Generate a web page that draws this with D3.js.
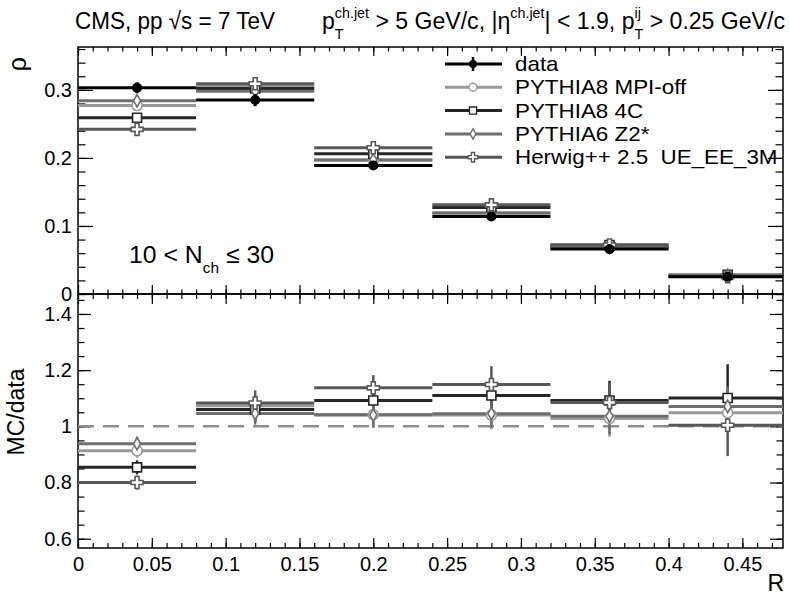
<!DOCTYPE html>
<html><head><meta charset="utf-8">
<script src="https://cdn.jsdelivr.net/npm/d3@7"></script>
<style>
html,body{margin:0;padding:0;background:#fff;}
text{font-family:"Liberation Sans",Arial,Helvetica,sans-serif;white-space:pre;}
</style></head>
<body>
<svg id="c" width="789" height="597"></svg>
<script>
// ---------- data ----------
const binLow  = [0.00, 0.08, 0.16, 0.24, 0.32, 0.40];
const binHigh = [0.08, 0.16, 0.24, 0.32, 0.40, 0.48];
const binCenter = [0.04, 0.12, 0.20, 0.28, 0.36, 0.44];

const dataRho    = [0.303, 0.285, 0.189, 0.114, 0.066, 0.0255];
const dataRhoErr = [0.008, 0.009, 0.005, 0.003, 0.002, 0.002];

const mpiOffRho  = [0.277, 0.306, 0.197, 0.119, 0.068, 0.0267];
const p8_4cRho   = [0.259, 0.302, 0.206, 0.127, 0.072, 0.0281];
const p6_z2Rho   = [0.284, 0.298, 0.197, 0.119, 0.068, 0.0273];
const herwigRho  = [0.242, 0.309, 0.215, 0.131, 0.072, 0.0256];

const mpiOffRatio = [0.913, 1.073, 1.042, 1.040, 1.028, 1.048];
const p8_4cRatio  = [0.854, 1.060, 1.092, 1.110, 1.092, 1.101];
const p6_z2Ratio  = [0.938, 1.046, 1.040, 1.045, 1.036, 1.071];
const herwigRatio = [0.800, 1.083, 1.137, 1.149, 1.085, 1.004];

const mpiOffRatioErr = [0.025, 0.040, 0.045, 0.050, 0.065, 0.070];
const p8_4cRatioErr  = [0.025, 0.045, 0.050, 0.060, 0.070, 0.120];
const p6_z2RatioErr  = [0.025, 0.040, 0.045, 0.050, 0.065, 0.070];
const herwigRatioErr = [0.025, 0.045, 0.045, 0.065, 0.070, 0.110];

const seriesNames = ["data", "PYTHIA8 MPI-off", "PYTHIA8 4C", "PYTHIA6 Z2*", "Herwig++ 2.5  UE_EE_3M"];

const xTicks     = [0, 0.05, 0.1, 0.15, 0.2, 0.25, 0.3, 0.35, 0.4, 0.45];
const xTickLabels= ["0","0.05","0.1","0.15","0.2","0.25","0.3","0.35","0.4","0.45"];
const rhoTicks   = [0, 0.1, 0.2, 0.3];
const rhoTickLabels = ["0","0.1","0.2","0.3"];
const ratioTicks = [0.6, 0.8, 1, 1.2, 1.4];
const ratioTickLabels = ["0.6","0.8","1","1.2","1.4"];

// ---------- layout ----------
const L = 78, R = 783, T = 47, MID = 294, B = 548;
const svg = d3.select("#c");
const x = d3.scaleLinear().domain([0, 0.4775]).range([L, R]);
const yU = d3.scaleLinear().domain([0, 0.363]).range([MID, T]);
const yL = d3.scaleLinear().domain([0.567, 1.471]).range([B, MID]);

const mc = [
  {name: seriesNames[1], rho: mpiOffRho, ratio: mpiOffRatio, err: mpiOffRatioErr, color: "#9a9a9a", sym: "circle"},
  {name: seriesNames[2], rho: p8_4cRho,  ratio: p8_4cRatio,  err: p8_4cRatioErr,  color: "#262626", sym: "square"},
  {name: seriesNames[3], rho: p6_z2Rho,  ratio: p6_z2Ratio,  err: p6_z2RatioErr,  color: "#6e6e6e", sym: "diamond"},
  {name: seriesNames[4], rho: herwigRho, ratio: herwigRatio, err: herwigRatioErr, color: "#585858", sym: "cross"}
];
const symType = {circle: d3.symbolCircle, square: d3.symbolSquare, diamond: d3.symbolDiamond, cross: d3.symbolCross};
const symSize = {circle: 80, square: 81, diamond: 44, cross: 80};

function drawMarker(g, s, cx, cy) {
  g.append("path").attr("d", d3.symbol().type(symType[s.sym]).size(symSize[s.sym])())
    .attr("transform", `translate(${cx},${cy})`)
    .attr("fill", "#fff").attr("stroke", s.color).attr("stroke-width", 1.6);
}

// ---------- axes ----------
const minorX = d3.range(0, 0.4776, 0.01).map(v => +v.toFixed(3));
const minorRho = d3.range(0, 0.3631, 0.02).map(v => +v.toFixed(3));
const minorRatio = d3.range(0.6, 1.4501, 0.05).map(v => +v.toFixed(3));
function fmt(vals, labels) { return v => labels[vals.findIndex(t => Math.abs(t - v) < 1e-9)] || ""; }

function addAxis(axis, tx, ty, labelSize) {
  const g = svg.append("g").attr("transform", `translate(${tx},${ty})`).call(axis);
  g.select(".domain").remove();
  g.selectAll("line").attr("stroke", "#000").attr("stroke-width", 1.2);
  g.selectAll("text").attr("font-size", labelSize || 20).attr("fill", "#000")
    .attr("font-family", '"Liberation Sans",Arial,sans-serif');
  return g;
}
// upper panel x ticks (top frame down, bottom up)
addAxis(d3.axisTop(x).tickValues(xTicks).tickSize(-9).tickFormat(""), 0, T);
addAxis(d3.axisTop(x).tickValues(minorX).tickSize(-4.5).tickFormat(""), 0, T);
addAxis(d3.axisBottom(x).tickValues(xTicks).tickSize(-9).tickFormat(""), 0, MID);
addAxis(d3.axisBottom(x).tickValues(minorX).tickSize(-4.5).tickFormat(""), 0, MID);
// lower panel x ticks
addAxis(d3.axisTop(x).tickValues(xTicks).tickSize(-10).tickFormat(""), 0, MID);
addAxis(d3.axisTop(x).tickValues(minorX).tickSize(-5).tickFormat(""), 0, MID);
addAxis(d3.axisBottom(x).tickValues(xTicks).tickSize(-10).tickPadding(9).tickFormat(fmt(xTicks, xTickLabels)), 0, B);
addAxis(d3.axisBottom(x).tickValues(minorX).tickSize(-5).tickFormat(""), 0, B);
// upper y
addAxis(d3.axisLeft(yU).tickValues(rhoTicks).tickSize(-15).tickPadding(6).tickFormat(fmt(rhoTicks, rhoTickLabels)), L, 0);
addAxis(d3.axisLeft(yU).tickValues(minorRho).tickSize(-7.5).tickFormat(""), L, 0);
addAxis(d3.axisRight(yU).tickValues(rhoTicks).tickSize(-15).tickFormat(""), R, 0);
addAxis(d3.axisRight(yU).tickValues(minorRho).tickSize(-7.5).tickFormat(""), R, 0);
// lower y
addAxis(d3.axisLeft(yL).tickValues(ratioTicks).tickSize(-13).tickPadding(6).tickFormat(fmt(ratioTicks, ratioTickLabels)), L, 0);
addAxis(d3.axisLeft(yL).tickValues(minorRatio).tickSize(-6.5).tickFormat(""), L, 0);
addAxis(d3.axisRight(yL).tickValues(ratioTicks).tickSize(-13).tickFormat(""), R, 0);
addAxis(d3.axisRight(yL).tickValues(minorRatio).tickSize(-6.5).tickFormat(""), R, 0);

// frames
svg.append("rect").attr("x", L).attr("y", T).attr("width", R - L).attr("height", MID - T)
  .attr("fill", "none").attr("stroke", "#000").attr("stroke-width", 1.5);
svg.append("rect").attr("x", L).attr("y", MID).attr("width", R - L).attr("height", B - MID)
  .attr("fill", "none").attr("stroke", "#000").attr("stroke-width", 1.5);

// ---------- upper panel ----------
const gU = svg.append("g");
mc.forEach(s => {
  binCenter.forEach((c, i) => {
    gU.append("line").attr("x1", x(binLow[i])).attr("x2", Math.min(x(binHigh[i]), R))
      .attr("y1", yU(s.rho[i])).attr("y2", yU(s.rho[i]))
      .attr("stroke", s.color).attr("stroke-width", 3);
  });
});
mc.forEach(s => binCenter.forEach((c, i) => drawMarker(gU, s, x(c), yU(s.rho[i]))));
binCenter.forEach((c, i) => {
  gU.append("line").attr("x1", x(binLow[i])).attr("x2", Math.min(x(binHigh[i]), R))
    .attr("y1", yU(dataRho[i])).attr("y2", yU(dataRho[i])).attr("stroke", "#000").attr("stroke-width", 3);
  gU.append("line").attr("x1", x(c)).attr("x2", x(c))
    .attr("y1", yU(dataRho[i] - dataRhoErr[i])).attr("y2", yU(dataRho[i] + dataRhoErr[i]))
    .attr("stroke", "#000").attr("stroke-width", 3);
  gU.append("circle").attr("cx", x(c)).attr("cy", yU(dataRho[i])).attr("r", 5).attr("fill", "#000");
});

// ---------- lower panel ----------
const gL = svg.append("g");
gL.append("line").attr("x1", L).attr("x2", R).attr("y1", yL(1)).attr("y2", yL(1))
  .attr("stroke", "#8f8f8f").attr("stroke-width", 2.5).attr("stroke-dasharray", "16,9");
mc.forEach(s => {
  binCenter.forEach((c, i) => {
    gL.append("line").attr("x1", x(c)).attr("x2", x(c))
      .attr("y1", yL(s.ratio[i] - s.err[i])).attr("y2", yL(s.ratio[i] + s.err[i]))
      .attr("stroke", s.color).attr("stroke-width", 2.5);
    gL.append("line").attr("x1", x(binLow[i])).attr("x2", Math.min(x(binHigh[i]), R))
      .attr("y1", yL(s.ratio[i])).attr("y2", yL(s.ratio[i]))
      .attr("stroke", s.color).attr("stroke-width", 3);
  });
});
mc.forEach(s => binCenter.forEach((c, i) => drawMarker(gL, s, x(c), yL(s.ratio[i]))));

// ---------- legend ----------
const lg = svg.append("g");
const legY0 = 64, legDy = 23.3, lx1 = 445, lx2 = 502, lmx = 473, ltx = 515;
const legendEntries = [{name: seriesNames[0], color: "#000", data: true}].concat(mc);
legendEntries.forEach((s, k) => {
  const yy = legY0 + k * legDy;
  lg.append("line").attr("x1", lx1).attr("x2", lx2).attr("y1", yy).attr("y2", yy)
    .attr("stroke", s.color).attr("stroke-width", 3);
  if (s.data) {
    lg.append("line").attr("x1", lmx).attr("x2", lmx).attr("y1", yy - 7).attr("y2", yy + 7)
      .attr("stroke", "#000").attr("stroke-width", 2.5);
    lg.append("circle").attr("cx", lmx).attr("cy", yy).attr("r", 4).attr("fill", "#000");
  } else {
    lg.append("path").attr("d", d3.symbol().type(symType[s.sym]).size(s.sym === "diamond" ? 30 : 50)())
      .attr("transform", `translate(${lmx},${yy})`).attr("fill", "#fff")
      .attr("stroke", s.color).attr("stroke-width", 1.4);
  }
  lg.append("text").attr("transform", `translate(${ltx},${yy + 7}) scale(1.12,1)`)
    .attr("font-size", 20).text(s.name);
});

// ---------- rich text helper ----------
function rich(pieces, x0, y0, size, targetW) {
  const g = svg.append("g");
  let cx = 0;
  pieces.forEach(p => {
    if (p.sup !== undefined || p.sub !== undefined) {
      let w = 0;
      if (p.sup) { const t = g.append("text").attr("x", cx).attr("y", -size * 0.45).attr("font-size", size * 0.62).text(p.sup); w = Math.max(w, t.node().getComputedTextLength()); }
      if (p.sub) { const t = g.append("text").attr("x", cx).attr("y", size * 0.42).attr("font-size", size * 0.62).text(p.sub); w = Math.max(w, t.node().getComputedTextLength()); }
      cx += w;
    } else {
      const t = g.append("text").attr("x", cx).attr("y", 0).attr("font-size", size).text(p.t);
      cx += t.node().getComputedTextLength();
    }
  });
  const s = targetW ? targetW / cx : 1;
  g.attr("transform", `translate(${x0},${y0}) scale(${s},1)`);
  return g;
}

// header texts
rich([{t: "CMS, pp "}, {t: "\u221As"}, {t: " = 7 TeV"}], 75, 29, 24, 200);
rich([{t: "p"}, {sup: "ch.jet", sub: "T"}, {t: " > 5 GeV/c, |\u03B7"}, {sup: "ch.jet"}, {t: "| < 1.9, p"},
      {sup: "ij", sub: "T"}, {t: " > 0.25 GeV/c"}], 322, 29, 24, 463);

// N_ch label
rich([{t: "10 < N"}, {sub: "ch"}, {t: " \u2264 30"}], 129, 263, 24, 145);

// axis titles
svg.append("text").attr("transform", "translate(26,57) rotate(-90)").attr("text-anchor", "end")
  .attr("font-size", 25).text("\u03C1");
svg.append("text").attr("transform", "translate(24,412) rotate(-90)").attr("text-anchor", "middle")
  .attr("font-size", 23).text("MC/data");
svg.append("text").attr("x", 784).attr("y", 591).attr("text-anchor", "end").attr("font-size", 23).text("R");
</script>
</body></html>
